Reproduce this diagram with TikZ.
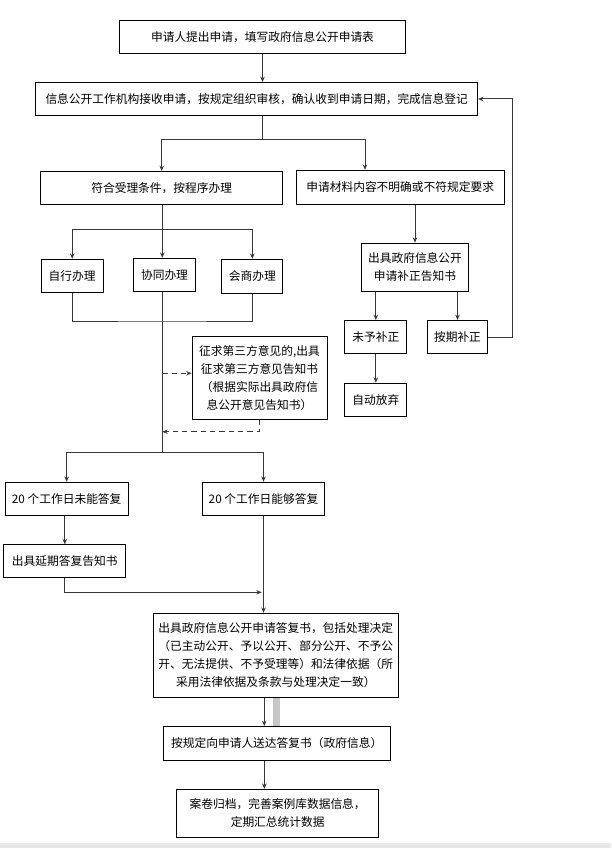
\documentclass[tikz,border=0pt]{standalone}
\usepackage{fontspec}
\setmainfont{Noto Sans CJK SC}
\usetikzlibrary{arrows.meta}
\tikzset{
	box/.style 2 args={draw,line width=0.75pt,inner sep=2pt,align=center,
		minimum width=#1*0.75pt,minimum height=#2*0.75pt,
		font=\fontsize{8.8pt}{13.6pt}\selectfont},
	conn/.style={draw=black!78,line width=0.75pt},
	arr/.style={conn,-{Stealth[length=4pt,width=3.4pt]}},
	dasharr/.style={arr,dash pattern=on 4pt off 3pt}
}

\begin{document}
\begin{tikzpicture}[x=0.75pt,y=-0.75pt]
		\useasboundingbox (0,0) rectangle (611,848);
		\fill[black!9] (0,843.3) rectangle (611,848);

		\node[box={286}{33}] (apply) at (262.5,37.3) {申请人提出申请，填写政府信息公开申请表};
		\node[box={442}{33}] (accept) at (256.7,99) {信息公开工作机构接收申请，按规定组织审核，确认收到申请日期，完成信息登记};
		\node[box={242}{33}] (ok) at (161.7,188) {符合受理条件，按程序办理};
		\node[box={208}{34}] (unclear) at (400.2,187.3) {申请材料内容不明确或不符规定要求};

		\node[box={62}{33}] (self) at (72.2,275.8) {自行办理};
		\node[box={62}{33}] (joint) at (164.5,274.8) {协同办理};
		\node[box={61}{34}] (consult) at (252.3,276.3) {会商办理};
		\node[box={135}{83}] (third) at (259.5,377.8) {征求第三方意见的,出具\\征求第三方意见告知书\\（根据实际出具政府信\\息公开意见告知书）};

		\node[box={107}{48}] (notice) at (415,267.2) {出具政府信息公开\\申请补正告知书};
		\node[box={62}{33}] (nofix) at (375.8,337) {未予补正};
		\node[box={60}{33}] (fixed) at (457.5,337) {按期补正};
		\node[box={62}{33}] (giveup) at (375.8,399.7) {自动放弃};

		\node[box={123}{33}] (late) at (66.7,498.8) {20 个工作日未能答复};
		\node[box={122}{33}] (intime) at (263.5,498.8) {20 个工作日能够答复};
		\node[box={122}{33}] (extend) at (64.8,561.3) {出具延期答复告知书};
		\node[box={245}{84}] (reply) at (275.8,655.3) {出具政府信息公开申请答复书，包括处理决定\\（已主动公开、予以公开、部分公开、不予公\\开、无法提供、不予受理等）和法律依据（所\\采用法律依据及条款与处理决定一致）};
		\node[box={227}{34}] (deliver) at (276.7,743.5) {按规定向申请人送达答复书（政府信息）};
		\node[box={202}{48}] (archive) at (277.7,813.3) {案卷归档，完善案例库数据信息，\\定期汇总统计数据};

		\coordinate (split1) at (262.3,140);
		\coordinate (split2) at (162.3,229.3);
		\coordinate (merge) at (162.3,321);
		\coordinate (split3) at (162.3,452.3);
		\coordinate (ask) at (162.3,373.3);
		\coordinate (back) at (162.3,431.7);
		\coordinate (join) at (261.7,592.3);

		\draw[arr] (apply.south) -- (apply.south |- accept.north);
		\draw[conn] (split1 |- accept.south) -- (split1);
		\draw[arr] (split1) -| (ok.north);
		\draw[arr] (split1) -| (unclear.north -| 365,0);

		\draw[conn] (ok.south -| split2) -- (split2);
		\draw[arr] (split2) -| (self.north);
		\draw[arr] (split2) -| (consult.north);
		\draw[arr] (split2) -- (split2 |- joint.north);
		\draw[conn] (self.south) |- (merge) -| (consult.south);
		\draw[conn] (split2 |- joint.south) -- (split3);
		\draw[dasharr] (ask) -- (ask -| third.west);
		\draw[dasharr] (third.south) |- (back);

		\draw[arr] (notice.north |- unclear.south) -- (notice.north);
		\draw[arr] (nofix.north |- notice.south) -- (nofix.north);
		\draw[arr] (fixed.north |- notice.south) -- (fixed.north);
		\draw[arr] (nofix.south) -- (giveup.north);
		\draw[arr] (fixed.east) -- (fixed.east -| 512.3,0) |- (accept.east);

		\draw[arr] (split3) -| (late.north);
		\draw[arr] (split3) -| (intime.north);
		\draw[arr] (extend.north |- late.south) -- (extend.north);
		\draw[arr] (extend.south) |- (join);
		\draw[arr] (intime.south) -- (intime.south |- reply.north);

		\fill[black!22] (reply.south -| 273.3,0) rectangle (deliver.north -| 280,0);
		\draw[arr] (reply.south -| 264.3,0) -- (deliver.north -| 264.3,0);
		\draw[arr] (deliver.south -| 264.3,0) -- (archive.north -| 264.3,0);
	\end{tikzpicture}
\end{document}
